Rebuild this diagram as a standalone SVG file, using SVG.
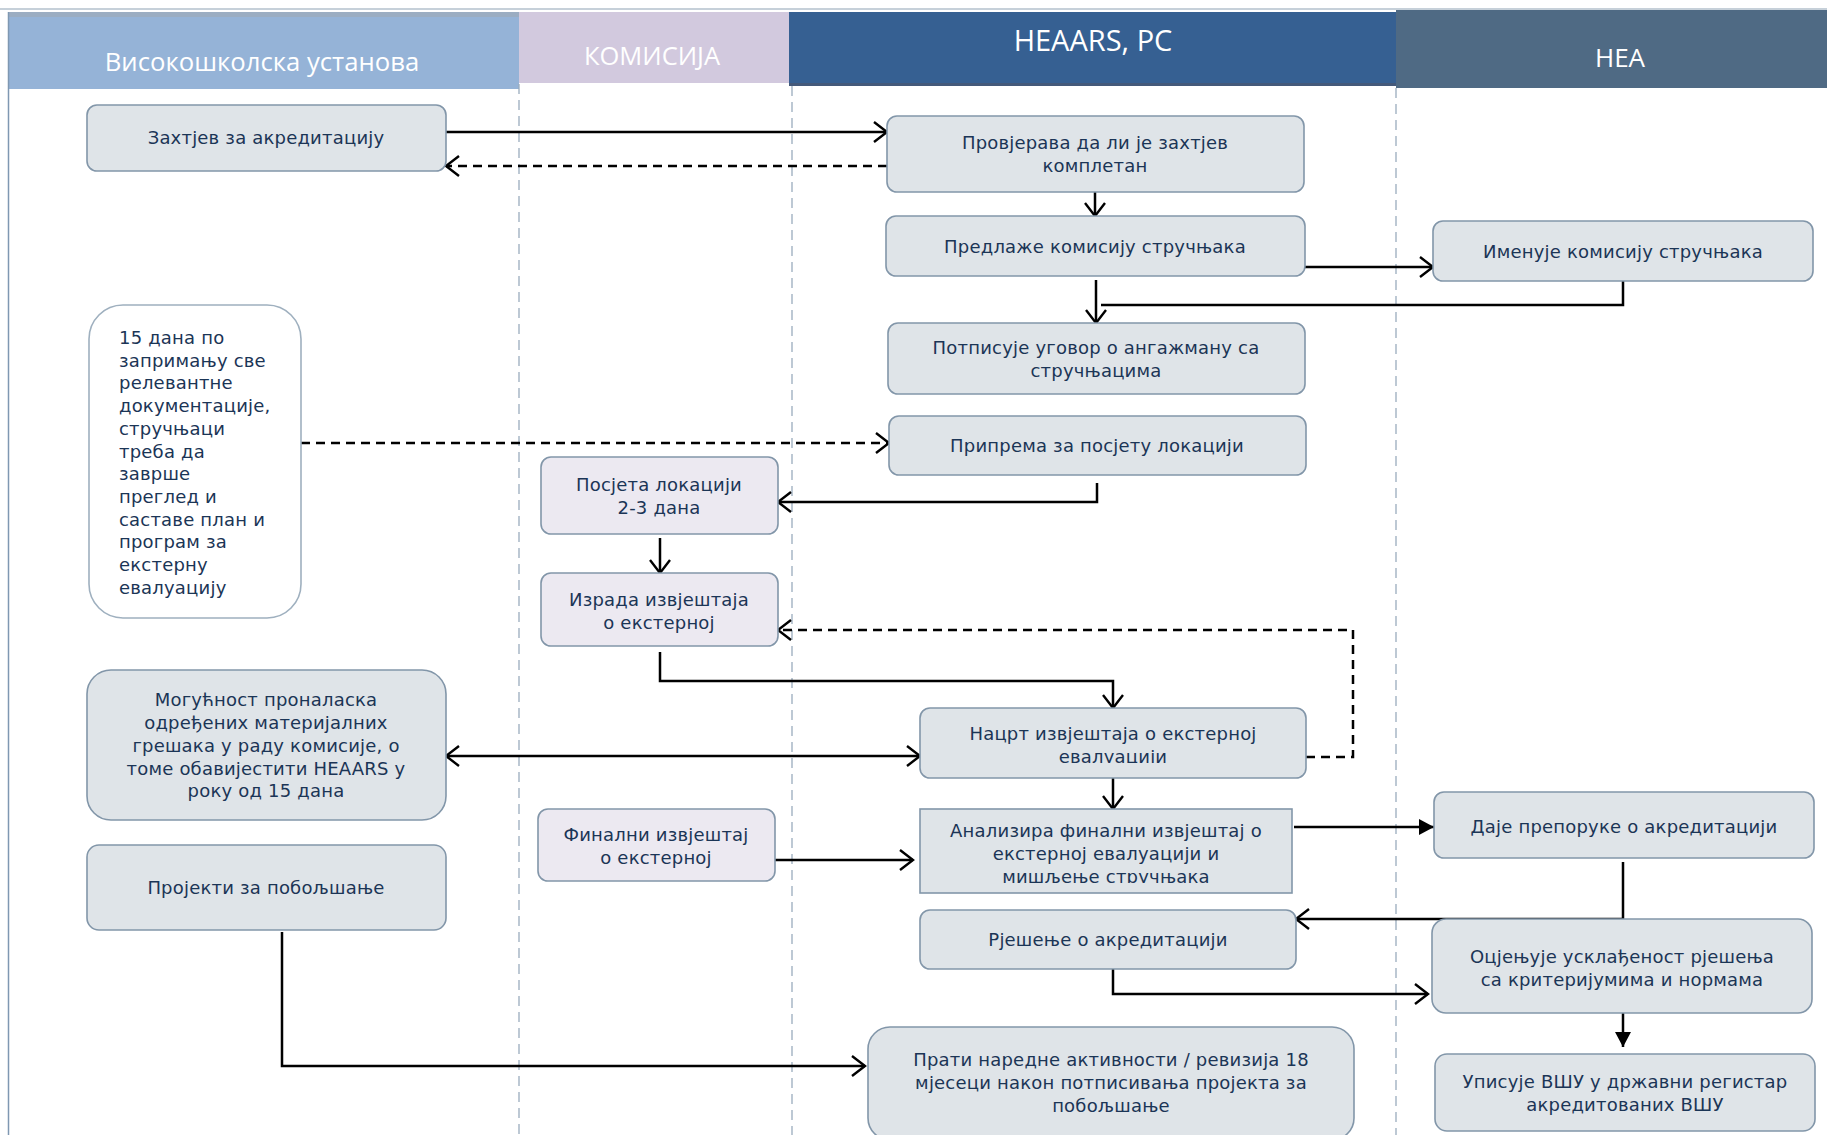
<svg xmlns="http://www.w3.org/2000/svg" width="1827" height="1135" viewBox="0 0 1827 1135">
<defs>
<style>
.node{fill:#dfe4e8;stroke:#8296a9;stroke-width:1.6}
.kom{fill:#ece9f1;stroke:#8296a9;stroke-width:1.6}
.note{fill:#ffffff;stroke:#9fb0bf;stroke-width:1.6}
.t{font-family:"DejaVu Sans",Verdana,sans-serif;font-size:18px;letter-spacing:0.2px;fill:#1b3556;text-anchor:middle}
.tl{font-family:"DejaVu Sans",Verdana,sans-serif;font-size:18px;letter-spacing:0.2px;fill:#1b3556}
.h{font-family:"Open Sans","DejaVu Sans",sans-serif;fill:#ffffff;text-anchor:middle}
.lane{stroke:#9aacbd;stroke-width:1.3;stroke-dasharray:10 6;fill:none}
.c{fill:none;stroke:#000;stroke-width:2.5}
.d{fill:none;stroke:#000;stroke-width:2.5;stroke-dasharray:9 6}
</style>
<marker id="open" viewBox="-16 -12 18 24" refX="0" refY="0" markerWidth="18" markerHeight="24" markerUnits="userSpaceOnUse" orient="auto-start-reverse">
<path d="M-13,-10 L0,0 L-13,10" fill="none" stroke="#000" stroke-width="2.4"/>
</marker>
<marker id="tri" viewBox="-16 -9 18 18" refX="0" refY="0" markerWidth="18" markerHeight="18" markerUnits="userSpaceOnUse" orient="auto">
<path d="M-15,-8 L0,0 L-15,8 Z" fill="#000"/>
</marker>
<clipPath id="clipNacrt"><rect x="900" y="700" width="420" height="63"/></clipPath>
<clipPath id="clipAnaliz"><rect x="900" y="800" width="420" height="83"/></clipPath>
</defs>

<!-- swimlane headers -->
<g id="lanes">
<line x1="0" y1="9" x2="1827" y2="9" stroke="#b3c0cc" stroke-width="1.5"/>
<rect x="8" y="12" width="511" height="77" fill="#95b3d7"/>
<rect x="8" y="12" width="511" height="5" fill="#9badc2"/>
<rect x="519" y="12" width="270" height="71" fill="#d2c9de"/>
<rect x="789" y="12" width="607" height="72" fill="#366092"/>
<rect x="789" y="83" width="607" height="3" fill="#44597a"/>
<rect x="1396" y="10" width="431" height="78" fill="#4f6a84"/>
<text class="h" x="262" y="71" font-size="25.7">Високошколска установа</text>
<text class="h" x="652" y="65" font-size="25.5" fill="#f6f3f9">КОМИСИЈА</text>
<text class="h" x="1093" y="51" font-size="29">HEAARS, РС</text>
<text class="h" x="1620" y="67" font-size="26">HEA</text>
<line x1="8.5" y1="12" x2="8.5" y2="1135" stroke="#7f98b2" stroke-width="1.5"/>
<line class="lane" x1="519" y1="84" x2="519" y2="1135"/>
<line class="lane" x1="792" y1="86" x2="792" y2="1135"/>
<line class="lane" x1="1396" y1="88" x2="1396" y2="1135"/>
</g>

<!-- connectors -->
<g id="connectors">
<line class="c" x1="446" y1="132" x2="887" y2="132" marker-end="url(#open)"/>
<line class="d" x1="887" y1="166" x2="446" y2="166" marker-end="url(#open)"/>
<line class="c" x1="1095" y1="182" x2="1095" y2="216" stroke-width="2" marker-end="url(#open)"/>
<line class="c" x1="1305" y1="267" x2="1433" y2="267" marker-end="url(#open)"/>
<line class="c" x1="1096" y1="280" x2="1096" y2="323" stroke-width="2" marker-end="url(#open)"/>
<polyline class="c" points="1623,281 1623,305 1101,305"/>
<line class="d" x1="301" y1="443" x2="889" y2="443" marker-end="url(#open)"/>
<polyline class="c" points="1097,483 1097,502 778,502" marker-end="url(#open)"/>
<line class="c" x1="660" y1="538" x2="660" y2="573" stroke-width="2" marker-end="url(#open)"/>
<polyline class="d" points="1306,757 1353,757 1353,630 778,630" marker-end="url(#open)"/>
<polyline class="c" points="660,652 660,681 1113,681 1113,708" marker-end="url(#open)"/>
<line class="c" x1="446" y1="756" x2="920" y2="756" marker-start="url(#open)" marker-end="url(#open)"/>
<line class="c" x1="1113" y1="775" x2="1113" y2="809" stroke-width="2" marker-end="url(#open)"/>
<line class="c" x1="775" y1="860" x2="913" y2="860" marker-end="url(#open)"/>
<line class="c" x1="1294" y1="827" x2="1434" y2="827" marker-end="url(#tri)"/>
<polyline class="c" points="1623,862 1623,919 1296,919" marker-end="url(#open)"/>
<polyline class="c" points="1113,969 1113,994 1428,994" marker-end="url(#open)"/>
<line class="c" x1="1623" y1="1013" x2="1623" y2="1047" stroke-width="2" marker-end="url(#tri)"/>
<polyline class="c" points="282,932 282,1066 865,1066" marker-end="url(#open)"/>
</g>

<!-- Високошколска установа -->
<g id="n-zahtjev">
<rect class="node" x="87" y="105" width="359" height="66" rx="10"/>
<text class="t" x="266" y="144">Захтјев за акредитацију</text>
</g>
<g id="n-note15">
<rect class="note" x="89" y="305" width="212" height="313" rx="34"/>
<text class="tl" x="119" y="344">15 дана по</text>
<text class="tl" x="119" y="366.7">запримању све</text>
<text class="tl" x="119" y="389.4">релевантне</text>
<text class="tl" x="119" y="412.1">документације,</text>
<text class="tl" x="119" y="434.8">стручњаци</text>
<text class="tl" x="119" y="457.5">треба да</text>
<text class="tl" x="119" y="480.2">заврше</text>
<text class="tl" x="119" y="502.9">преглед и</text>
<text class="tl" x="119" y="525.6">саставе план и</text>
<text class="tl" x="119" y="548.3">програм за</text>
<text class="tl" x="119" y="571">екстерну</text>
<text class="tl" x="119" y="593.7">евалуацију</text>
</g>
<g id="n-mogucnost">
<rect class="node" x="87" y="670" width="359" height="150" rx="24"/>
<text class="t" x="266" y="706">Могућност проналаска</text>
<text class="t" x="266" y="729">одређених материјалних</text>
<text class="t" x="266" y="752">грешака у раду комисије, о</text>
<text class="t" x="266" y="775">томе обавијестити HEAARS у</text>
<text class="t" x="266" y="797">року од 15 дана</text>
</g>
<g id="n-projekti">
<rect class="node" x="87" y="845" width="359" height="85" rx="12"/>
<text class="t" x="266" y="894">Пројекти за побољшање</text>
</g>

<!-- Комисија -->
<g id="n-posjeta">
<rect class="kom" x="541" y="457" width="237" height="77" rx="10"/>
<text class="t" x="659" y="491">Посјета локацији</text>
<text class="t" x="659" y="514">2-3 дана</text>
</g>
<g id="n-izrada">
<rect class="kom" x="541" y="573" width="237" height="73" rx="10"/>
<text class="t" x="659" y="606">Израда извјештаја</text>
<text class="t" x="659" y="629">о екстерној</text>
</g>
<g id="n-finalni">
<rect class="kom" x="538" y="809" width="237" height="72" rx="10"/>
<text class="t" x="656" y="841">Финални извјештај</text>
<text class="t" x="656" y="864">о екстерној</text>
</g>

<!-- HEAARS, РС -->
<g id="n-provjerava">
<rect class="node" x="887" y="116" width="417" height="76" rx="10"/>
<text class="t" x="1095" y="149">Провјерава да ли је захтјев</text>
<text class="t" x="1095" y="172">комплетан</text>
</g>
<g id="n-predlaze">
<rect class="node" x="886" y="216" width="419" height="60" rx="10"/>
<text class="t" x="1095" y="253">Предлаже комисију стручњака</text>
</g>
<g id="n-potpisuje">
<rect class="node" x="888" y="323" width="417" height="71" rx="10"/>
<text class="t" x="1096" y="354">Потписује уговор о ангажману са</text>
<text class="t" x="1096" y="377">стручњацима</text>
</g>
<g id="n-priprema">
<rect class="node" x="889" y="416" width="417" height="59" rx="10"/>
<text class="t" x="1097" y="452">Припрема за посјету локацији</text>
</g>
<g id="n-nacrt">
<rect class="node" x="920" y="708" width="386" height="70" rx="10"/>
<g clip-path="url(#clipNacrt)">
<text class="t" x="1113" y="740">Нацрт извјештаја о екстерној</text>
<text class="t" x="1113" y="763">евалуацији</text>
</g>
</g>
<g id="n-analizira">
<rect class="node" x="920" y="809" width="372" height="84"/>
<g clip-path="url(#clipAnaliz)">
<text class="t" x="1106" y="837">Анализира финални извјештај о</text>
<text class="t" x="1106" y="860">екстерној евалуацији и</text>
<text class="t" x="1106" y="883">мишљење стручњака</text>
</g>
</g>
<g id="n-rjesenje">
<rect class="node" x="920" y="910" width="376" height="59" rx="10"/>
<text class="t" x="1108" y="946">Рјешење о акредитацији</text>
</g>
<g id="n-prati">
<rect class="node" x="868" y="1027" width="486" height="113" rx="22"/>
<text class="t" x="1111" y="1066">Прати наредне активности / ревизија 18</text>
<text class="t" x="1111" y="1089">мјесеци након потписивања пројекта за</text>
<text class="t" x="1111" y="1112">побољшање</text>
</g>

<!-- HEA -->
<g id="n-imenuje">
<rect class="node" x="1433" y="221" width="380" height="60" rx="10"/>
<text class="t" x="1623" y="258">Именује комисију стручњака</text>
</g>
<g id="n-daje">
<rect class="node" x="1434" y="792" width="380" height="66" rx="10"/>
<text class="t" x="1624" y="833">Даје препоруке о акредитацији</text>
</g>
<g id="n-ocjenjuje">
<rect class="node" x="1432" y="919" width="380" height="94" rx="14"/>
<text class="t" x="1622" y="963">Оцјењује усклађеност рјешења</text>
<text class="t" x="1622" y="986">са критеријумима и нормама</text>
</g>
<g id="n-upisuje">
<rect class="node" x="1435" y="1054" width="380" height="77" rx="12"/>
<text class="t" x="1625" y="1088">Уписује ВШУ у државни регистар</text>
<text class="t" x="1625" y="1111">акредитованих ВШУ</text>
</g>
</svg>
